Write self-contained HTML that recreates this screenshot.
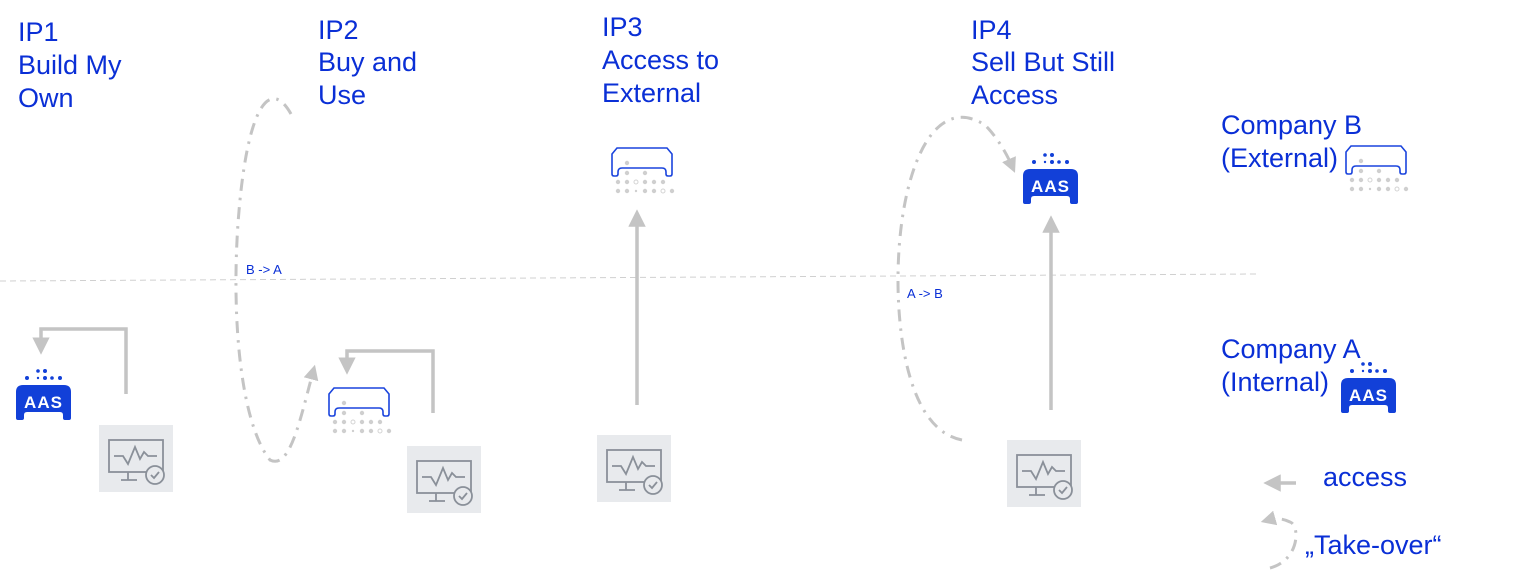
<!DOCTYPE html>
<html><head><meta charset="utf-8"><style>
html,body{margin:0;padding:0;background:#fff;}
svg{display:block}
text{font-family:"Liberation Sans",Arial,sans-serif}
.t{fill:#0a2fd6;font-size:27px}
</style></head><body>
<svg width="1517" height="576" viewBox="0 0 1517 576" xmlns="http://www.w3.org/2000/svg">
<defs>
<marker id="ah" viewBox="0 0 10 10" refX="5" refY="5" markerWidth="5" markerHeight="5" orient="auto"><path d="M0,0 L10,5 L0,10 Z" fill="#c4c4c4"/></marker>
<marker id="ah2" viewBox="0 0 10 10" refX="5" refY="5" markerWidth="5" markerHeight="5" orient="auto"><path d="M0,0 L10,5 L0,10 Z" fill="#c4c4c4"/></marker>
<g id="mon">
<rect x="0" y="0" width="74" height="67" fill="#e8eaed"/>
<g fill="none" stroke="#8a9099" stroke-width="1.8">
<rect x="10" y="15" width="54" height="32"/>
<path d="M15,31 H24 L29,39 L36,22 L41,34 L45,27 L49,31 H58"/>
<path d="M29,47 V55 M22,55 H38"/>
</g>
<circle cx="56" cy="50" r="9" fill="#e8eaed" stroke="#8a9099" stroke-width="1.8"/>
<path d="M52,50 L55,53 L60,47" fill="none" stroke="#8a9099" stroke-width="1.8"/>
</g>
<g id="aasf">
<path d="M0,24 Q0,17 7,17 H48 Q55,17 55,24 V50 Q55,52 53,52 H49 Q47,52 47,50 V47 Q47,44 44,44 H11 Q8,44 8,47 V50 Q8,52 6,52 H2 Q0,52 0,50 Z" fill="#1240d8"/>
<g fill="#1240d8"><circle cx="22" cy="3" r="1.8"/><circle cx="29" cy="3" r="2"/><circle cx="11" cy="10" r="2"/><circle cx="22" cy="10" r="1.2"/><circle cx="29" cy="10" r="2"/><circle cx="36" cy="10" r="1.8"/><circle cx="44" cy="10" r="2"/></g>
</g>
<g id="aaso">
<path d="M1,8 L6,2 H56 L61,8 V28 Q61,30 59,30 H57 Q55,30 55,28 V26 Q55,22 51,22 H11 Q7,22 7,26 V28 Q7,30 5,30 H3 Q1,30 1,28 Z" fill="none" stroke="#1a44dd" stroke-width="1.6"/>
<g fill="#cfcfcf"><circle cx="16" cy="17" r="2.2"/><circle cx="16" cy="27" r="2.2"/><circle cx="34" cy="27" r="2.2"/>
<circle cx="7" cy="36" r="2.2"/><circle cx="16" cy="36" r="2.2"/><circle cx="25" cy="36" r="2" fill="none" stroke="#d4d4d4"/><circle cx="34" cy="36" r="2.2"/><circle cx="43" cy="36" r="2.2"/><circle cx="52" cy="36" r="2.2"/>
<circle cx="7" cy="45" r="2.2"/><circle cx="16" cy="45" r="2.2"/><circle cx="25" cy="45" r="1.2"/><circle cx="34" cy="45" r="2.2"/><circle cx="43" cy="45" r="2.2"/><circle cx="52" cy="45" r="2" fill="none" stroke="#d4d4d4"/><circle cx="61" cy="45" r="2.2"/></g>
</g>
</defs>

<line x1="0" y1="281" x2="1257" y2="274" stroke="#d0d0d0" stroke-width="1" stroke-dasharray="6,4"/>

<text class="t" x="18" y="41">IP1</text><text class="t" x="18" y="74">Build My</text><text class="t" x="18" y="107">Own</text>
<text class="t" x="318" y="39">IP2</text><text class="t" x="318" y="71">Buy and</text><text class="t" x="318" y="104">Use</text>
<text class="t" x="602" y="36">IP3</text><text class="t" x="602" y="69">Access to</text><text class="t" x="602" y="102">External</text>
<text class="t" x="971" y="39">IP4</text><text class="t" x="971" y="71">Sell But Still</text><text class="t" x="971" y="104">Access</text>
<text class="t" x="1221" y="134">Company B</text><text class="t" x="1221" y="167">(External)</text>
<text class="t" x="1221" y="358">Company A</text><text class="t" x="1221" y="391">(Internal)</text>
<text class="t" x="1323" y="486">access</text>
<text class="t" x="1305" y="554">„Take-over“</text>
<text x="246" y="274" fill="#0a2fd6" font-size="13">B -&gt; A</text>
<text x="907" y="298" fill="#0a2fd6" font-size="13">A -&gt; B</text>

<g transform="translate(16,368)"><use href="#aasf"/><text x="27.5" y="40" text-anchor="middle" fill="#fff" font-weight="bold" font-size="17" letter-spacing="1">AAS</text></g>
<g transform="translate(1023,152)"><use href="#aasf"/><text x="27.5" y="40" text-anchor="middle" fill="#fff" font-weight="bold" font-size="17" letter-spacing="1">AAS</text></g>
<g transform="translate(1341,361)"><use href="#aasf"/><text x="27.5" y="40" text-anchor="middle" fill="#fff" font-weight="bold" font-size="17" letter-spacing="1">AAS</text></g>
<use href="#aaso" transform="translate(328,386)"/>
<use href="#aaso" transform="translate(611,146)"/>
<use href="#aaso" transform="translate(1345,144)"/>
<use href="#mon" transform="translate(99,425)"/>
<use href="#mon" transform="translate(407,446)"/>
<use href="#mon" transform="translate(597,435)"/>
<use href="#mon" transform="translate(1007,440)"/>

<g fill="none" stroke="#c4c4c4" stroke-width="3.5">
<path d="M126,394 V329 H41 V346" marker-end="url(#ah)"/>
<path d="M433,413 V351 H347 V366" marker-end="url(#ah)"/>
<path d="M637,405 V218" marker-end="url(#ah)"/>
<path d="M1051,410 V224" marker-end="url(#ah)"/>
<path d="M1296,483 H1272" marker-end="url(#ah)"/>
</g>
<g fill="none" stroke="#c4c4c4" stroke-width="3" stroke-dasharray="12,7,2.5,7">
<path d="M291,114 C272,80 250,100 240,200 C230,300 238,420 270,460 C290,470 300,420 313,372" marker-end="url(#ah2)"/>
<path d="M962,440 C910,430 898,340 898,280 C898,180 930,90 985,125 C995,135 1005,150 1012,166" marker-end="url(#ah2)"/>
<path d="M1270,568 C1300,560 1300,525 1290,522 C1282,518 1275,518 1268,520" marker-end="url(#ah2)"/>
</g>
</svg>
</body></html>
